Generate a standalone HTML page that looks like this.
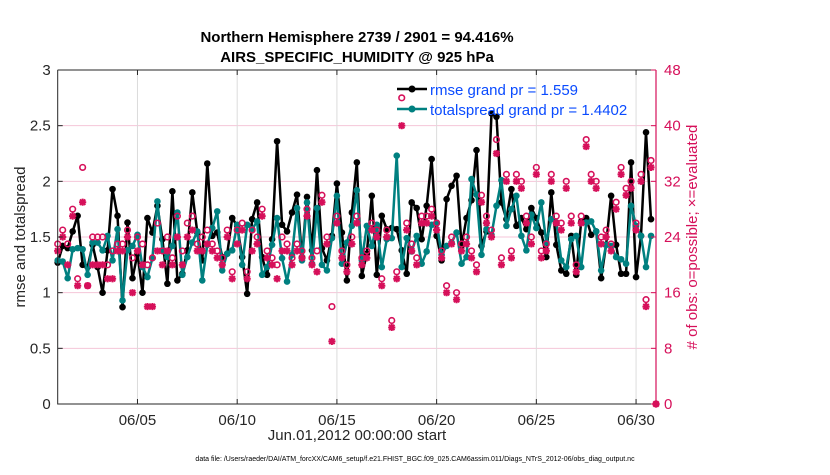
<!DOCTYPE html>
<html><head><meta charset="utf-8"><style>
body{margin:0;background:#fff;}
svg text{font-family:"Liberation Sans",Arial,sans-serif;}
</style></head><body>
<svg id="chart" width="830" height="470" viewBox="0 0 830 470" xmlns="http://www.w3.org/2000/svg">
<g id="grid"></g>
<g id="marks"></g>
<g id="axes"></g>
<text x="357" y="42" text-anchor="middle" font-size="15" font-weight="bold" fill="#000">Northern Hemisphere 2739 / 2901 = 94.416%</text>
<text x="357" y="62" text-anchor="middle" font-size="15" font-weight="bold" fill="#000">AIRS_SPECIFIC_HUMIDITY @ 925 hPa</text>
<text transform="translate(25,237) rotate(-90)" text-anchor="middle" font-size="15" fill="#262626">rmse and totalspread</text>
<text transform="translate(697,237) rotate(-90)" text-anchor="middle" font-size="15" fill="#d6105a"># of obs: o=possible; ×=evaluated</text>
<text x="357" y="440" text-anchor="middle" font-size="15" fill="#262626">Jun.01,2012 00:00:00 start</text>
<text x="415" y="461" text-anchor="middle" font-size="7" fill="#000">data file: /Users/raeder/DAI/ATM_forcXX/CAM6_setup/f.e21.FHIST_BGC.f09_025.CAM6assim.011/Diags_NTrS_2012-06/obs_diag_output.nc</text>
<g id="legend">
<line x1="397" y1="89" x2="427" y2="89" stroke="#000" stroke-width="2.5"/>
<circle cx="412" cy="89" r="3.5" fill="#000"/>
<text x="430" y="95" font-size="15" fill="#0a4bff">rmse grand pr = 1.559</text>
<line x1="397" y1="109" x2="427" y2="109" stroke="#008080" stroke-width="2.5"/>
<circle cx="412" cy="109" r="3.5" fill="#008080"/>
<text x="430" y="115" font-size="15" fill="#0a4bff">totalspread grand pr = 1.4402</text>
</g>
</svg>
<script>
const rmse=[1.27,1.42,1.40,1.55,1.69,1.25,1.23,1.43,1.23,1.00,1.38,1.93,1.69,0.87,1.63,1.13,1.35,1.00,1.67,1.54,
1.78,1.48,1.08,1.91,1.11,1.17,1.38,1.90,1.54,1.29,2.16,1.51,1.54,1.32,1.35,1.67,1.60,1.32,0.99,1.66,
1.81,1.32,1.16,1.48,2.36,1.61,1.55,1.72,1.88,1.32,1.86,1.38,2.10,1.40,1.29,1.51,1.98,1.54,1.11,1.72,
2.17,1.15,1.35,1.87,1.16,1.69,1.57,1.58,1.57,1.38,1.17,1.81,1.76,1.48,1.78,2.20,1.51,1.29,1.84,1.96,
2.05,1.42,1.67,1.83,2.28,1.42,1.55,2.61,2.58,1.81,1.66,1.93,1.60,1.67,1.57,1.76,1.67,1.54,1.32,1.90,
1.43,1.20,1.17,1.51,1.16,1.64,1.67,1.52,1.55,1.13,1.43,1.87,1.43,1.17,1.17,2.17,1.14,1.51,2.44,1.66];
const spread=[1.29,1.28,1.13,1.39,1.40,1.39,1.16,1.45,1.45,1.38,1.51,1.29,1.57,0.93,1.38,1.42,1.52,1.23,1.14,1.31,
1.82,1.38,1.32,1.42,1.72,1.16,1.32,1.45,1.55,1.11,1.43,1.58,1.73,1.20,1.35,1.38,1.61,1.25,1.61,1.57,
1.64,1.16,1.23,1.43,1.67,1.31,1.10,1.34,1.76,1.29,1.81,1.26,1.76,1.25,1.20,1.49,1.87,1.26,1.45,1.60,
1.92,1.29,1.60,1.42,1.61,1.23,1.48,1.49,2.23,1.23,1.49,1.37,1.51,1.26,1.37,1.61,1.63,1.34,1.42,1.45,
1.54,1.26,1.32,2.02,1.88,1.34,1.57,1.52,1.78,2.01,1.60,1.75,1.87,1.51,1.38,1.70,1.58,1.81,1.45,1.66,
1.63,1.29,1.23,1.48,1.51,1.23,1.63,1.64,1.55,1.20,1.43,1.42,1.32,1.30,1.26,1.78,1.60,1.51,1.23,1.51];
const possible=[23,25,23,28,18,34,17,24,24,24,20,22,23,23,25,21,24,23,20,21,
26,22,24,21,27,22,26,27,23,24,25,23,22,21,25,19,25,26,19,25,
24,28,22,21,20,24,23,21,23,22,28,21,22,30,24,14,27,22,20,24,
27,21,22,26,25,18,25,12,19,44,26,23,21,27,27,28,26,22,17,24,
16,23,24,22,20,30,27,25,38,21,33,22,33,32,27,24,34,22,23,33,
27,26,32,27,20,27,38,33,32,24,25,23,29,34,31,32,26,33,15,35,0];
const evaluated=[22,24,20,27,17,29,17,20,20,20,18,18,22,22,24,16,22,20,14,14,
22,20,22,20,24,20,24,25,22,22,23,22,21,20,24,18,23,25,18,22,
23,27,21,20,18,22,22,20,22,21,27,20,19,29,23,9,26,21,19,23,
26,20,21,25,24,17,24,11,18,40,25,22,20,26,26,27,25,21,16,23,
15,22,23,21,19,29,26,24,36,20,32,21,32,31,26,23,33,21,22,32,
26,25,31,26,19,26,37,32,31,23,24,22,28,33,30,31,25,32,14,34,0];
const yTicks=["0","0.5","1","1.5","2","2.5","3"];
const y2Ticks=["0","8","16","24","32","40","48"];
const xTickLabels=["06/05","06/10","06/15","06/20","06/25","06/30"];
const xTickDays=[4,9,14,19,24,29];

const NS="http://www.w3.org/2000/svg";
const L=57.7,R=656,T=70,B=404,DAYS=30;
const x=t=>L+t*(R-L)/DAYS;               // t in days
const xi=i=>x(i*0.25);
const y=v=>B-v*(B-T)/3;
const y2=c=>B-c*(B-T)/48;
function mk(tag,attrs,parent){const e=document.createElementNS(NS,tag);for(const k in attrs)e.setAttribute(k,attrs[k]);parent.appendChild(e);return e;}
const grid=document.getElementById('grid'),marks=document.getElementById('marks'),axes=document.getElementById('axes');
const MAG="#d6105a";
// grid
y2Ticks.forEach((t,k)=>{const yy=y2(+t);if(k>0&&k<6){const g=mk('line',{x1:L,x2:R,y1:yy,y2:yy,stroke:"#f4c6d8","stroke-width":1},grid);}});
xTickDays.forEach(d=>{const g=mk('line',{x1:x(d),x2:x(d),y1:T,y2:B,stroke:"#dcdcdc","stroke-width":1},grid);});
// lines
function series(vals,color,name){
  const pts=vals.map((v,i)=>xi(i).toFixed(1)+","+y(v).toFixed(1)).join(" ");
  const p=mk('polyline',{points:pts,fill:"none",stroke:color,"stroke-width":2.5,"stroke-linejoin":"round"},marks);
  
  
  vals.forEach((v,i)=>{const c=mk('circle',{cx:xi(i),cy:y(v),r:3.3,fill:color},marks);
    
    });
}
series(rmse,"#000","rmse");
series(spread,"#008080","totalspread");
// obs counts
possible.forEach((c,i)=>{const o=mk('circle',{cx:xi(i),cy:y2(c),r:2.8,fill:"none",stroke:MAG,"stroke-width":1.6},marks);
  
  });
evaluated.forEach((c,i)=>{const cx=xi(i),cy=y2(c),s=3.6;
  const g=mk('path',{d:`M${cx-s},${cy}H${cx+s}M${cx},${cy-s}V${cy+s}M${cx-s*0.75},${cy-s*0.75}L${cx+s*0.75},${cy+s*0.75}M${cx-s*0.75},${cy+s*0.75}L${cx+s*0.75},${cy-s*0.75}`,stroke:MAG,"stroke-width":2,fill:"none"},marks);
  
  });
// axes
const ax=mk('path',{d:`M${L},${T}V${B}H${R}`,stroke:"#262626","stroke-width":1,fill:"none"},axes);

const tp=mk('line',{x1:L,x2:R,y1:T,y2:T,stroke:"#262626","stroke-width":1},axes);

const ra=mk('line',{x1:R,x2:R,y1:T,y2:B,stroke:MAG,"stroke-width":1.2},axes);

yTicks.forEach(t=>{const yy=y(+t);
  mk('line',{x1:L,x2:L+5,y1:yy,y2:yy,stroke:"#262626"},axes);
  const tx=mk('text',{x:L-7,y:yy+5,"text-anchor":"end","font-size":15,fill:"#262626"},axes);tx.textContent=t;
  });
y2Ticks.forEach(t=>{const yy=y2(+t);
  mk('line',{x1:R-5,x2:R,y1:yy,y2:yy,stroke:MAG},axes);
  const tx=mk('text',{x:R+8,y:yy+5,"font-size":15,fill:MAG},axes);tx.textContent=t;
  });
xTickLabels.forEach((t,k)=>{const xx=x(xTickDays[k]);
  mk('line',{x1:xx,x2:xx,y1:B,y2:B-5,stroke:"#262626"},axes);
  mk('line',{x1:xx,x2:xx,y1:T,y2:T+5,stroke:"#262626"},axes);
  const tx=mk('text',{x:xx,y:B+21,"text-anchor":"middle","font-size":15,fill:"#262626"},axes);tx.textContent=t;
  });
</script>
</body></html>
